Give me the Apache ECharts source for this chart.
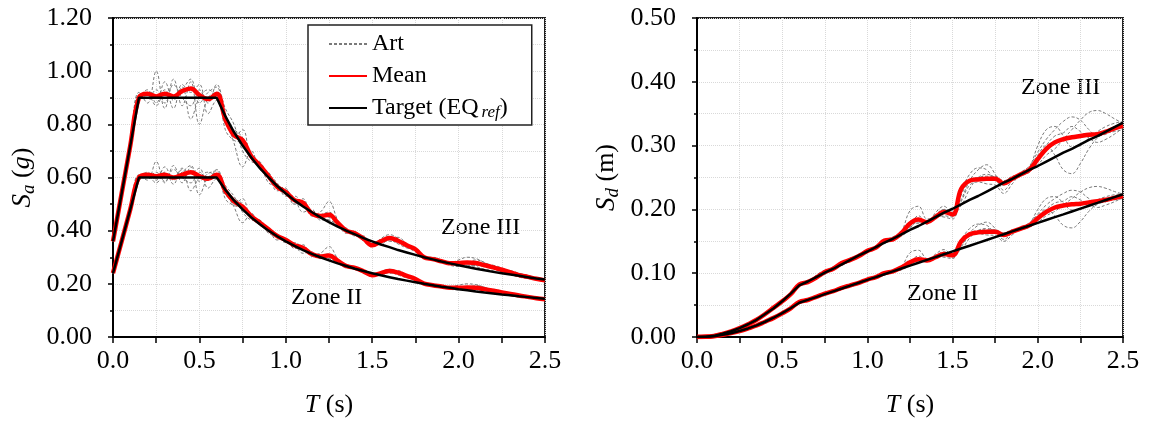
<!DOCTYPE html>
<html>
<head>
<meta charset="utf-8">
<script src="https://cdn.jsdelivr.net/npm/echarts@6/dist/echarts.min.js"></script>
<style>
  html, body { margin: 0; padding: 0; background: #fff; }
  #chart { width: 1150px; height: 423px; }
</style>
</head>
<body>
<div id="chart"></div>
<script>
// Period grid T (s)
const periods = [0,0.05,0.10,0.15,0.20,0.25,0.30,0.35,0.40,0.45,0.50,0.55,0.60,0.65,0.70,0.75,0.80,0.85,0.90,0.95,
  1.00,1.05,1.10,1.15,1.20,1.25,1.30,1.35,1.40,1.45,1.50,1.55,1.60,1.65,1.70,1.75,1.80,1.85,1.90,1.95,
  2.00,2.05,2.10,2.15,2.20,2.25,2.30,2.35,2.40,2.45,2.50];

// Tick labels
const xTickLabels = ['0.0','0.5','1.0','1.5','2.0','2.5'];
const saTickLabels = ['0.00','0.20','0.40','0.60','0.80','1.00','1.20'];
const sdTickLabels = ['0.00','0.10','0.20','0.30','0.40','0.50'];

// ---------- Spectral acceleration Sa (g) ----------
const saTargetIII = [0.36,0.54,0.72,0.90,0.90,0.90,0.90,0.90,0.90,0.90,0.90,0.90,0.90,0.831,0.771,0.720,0.675,0.635,0.600,0.568,
  0.540,0.514,0.491,0.470,0.450,0.432,0.415,0.400,0.386,0.372,0.360,0.348,0.338,0.327,0.318,0.309,0.300,0.292,0.284,0.277,
  0.270,0.263,0.257,0.251,0.245,0.240,0.235,0.230,0.225,0.220,0.216];
const saTargetII = [0.24,0.36,0.48,0.60,0.60,0.60,0.60,0.60,0.60,0.60,0.60,0.60,0.60,0.554,0.514,0.480,0.450,0.424,0.400,0.379,
  0.360,0.343,0.327,0.313,0.300,0.288,0.277,0.267,0.257,0.248,0.240,0.232,0.225,0.218,0.212,0.206,0.200,0.195,0.189,0.185,
  0.180,0.176,0.171,0.167,0.164,0.160,0.157,0.153,0.150,0.147,0.144];
const saMeanIII = [0.36,0.54,0.72,0.90,0.915,0.905,0.915,0.905,0.925,0.935,0.910,0.895,0.915,0.820,0.760,0.740,0.680,0.645,0.605,0.565,
  0.545,0.515,0.505,0.465,0.455,0.460,0.430,0.400,0.390,0.370,0.345,0.360,0.372,0.362,0.345,0.330,0.300,0.293,0.285,0.277,
  0.278,0.280,0.278,0.270,0.262,0.253,0.243,0.233,0.226,0.219,0.213];
const saMeanII = [0.24,0.36,0.48,0.60,0.610,0.605,0.610,0.600,0.610,0.620,0.605,0.595,0.610,0.550,0.510,0.490,0.455,0.430,0.405,0.380,
  0.365,0.345,0.335,0.312,0.303,0.307,0.287,0.267,0.260,0.247,0.232,0.240,0.248,0.242,0.230,0.218,0.201,0.195,0.190,0.185,
  0.185,0.186,0.185,0.180,0.174,0.168,0.162,0.156,0.151,0.146,0.142];
const saArtIII1 = [0.36,0.55,0.73,0.92,0.88,1.00,0.86,0.95,0.90,0.87,0.93,0.88,0.95,0.86,0.80,0.70,0.66,0.65,0.58,0.57,
  0.55,0.50,0.51,0.46,0.47,0.51,0.44,0.39,0.395,0.36,0.345,0.37,0.385,0.37,0.34,0.32,0.30,0.30,0.29,0.28,
  0.29,0.30,0.295,0.28,0.265,0.25,0.24,0.232,0.225,0.218,0.212];
const saArtIII2 = [0.36,0.53,0.71,0.89,0.93,0.88,0.96,0.89,0.94,0.82,0.90,0.93,0.90,0.83,0.73,0.64,0.70,0.63,0.62,0.56,
  0.54,0.52,0.47,0.48,0.44,0.44,0.42,0.41,0.38,0.38,0.35,0.35,0.37,0.375,0.35,0.33,0.295,0.29,0.28,0.275,
  0.27,0.265,0.27,0.275,0.27,0.26,0.245,0.23,0.222,0.218,0.215];
const saArtIII3 = [0.36,0.54,0.72,0.91,0.90,0.93,0.88,0.97,0.87,0.96,0.80,0.90,0.92,0.80,0.78,0.75,0.67,0.64,0.61,0.58,
  0.53,0.53,0.50,0.47,0.46,0.45,0.43,0.40,0.385,0.375,0.35,0.36,0.36,0.355,0.34,0.335,0.305,0.29,0.285,0.28,
  0.275,0.28,0.29,0.28,0.26,0.245,0.235,0.225,0.22,0.215,0.212];
const saArtIII4 = [0.36,0.55,0.72,0.88,0.92,0.90,0.93,0.86,0.95,0.92,0.95,0.84,0.89,0.83,0.75,0.78,0.67,0.66,0.60,0.565,
  0.56,0.51,0.52,0.455,0.46,0.47,0.43,0.40,0.39,0.37,0.34,0.365,0.37,0.36,0.345,0.325,0.30,0.295,0.285,0.28,
  0.28,0.27,0.265,0.255,0.25,0.248,0.24,0.235,0.228,0.22,0.214];
const saArtIII5 = [0.36,0.54,0.73,0.90,0.91,0.87,0.92,0.90,0.93,0.97,0.88,0.92,0.94,0.78,0.74,0.73,0.69,0.64,0.61,0.55,
  0.555,0.50,0.50,0.47,0.45,0.44,0.425,0.40,0.39,0.365,0.34,0.355,0.365,0.35,0.335,0.33,0.30,0.29,0.285,0.27,
  0.265,0.27,0.27,0.265,0.262,0.255,0.25,0.24,0.232,0.222,0.213];
const saArtII1 = [0.24,0.37,0.49,0.61,0.59,0.66,0.58,0.63,0.60,0.58,0.62,0.59,0.63,0.57,0.53,0.47,0.44,0.435,0.39,0.38,
  0.37,0.335,0.34,0.31,0.315,0.34,0.295,0.26,0.265,0.24,0.23,0.245,0.255,0.245,0.227,0.213,0.20,0.20,0.193,0.188,
  0.195,0.20,0.197,0.187,0.177,0.167,0.16,0.155,0.15,0.146,0.142];
const saArtII2 = [0.24,0.35,0.47,0.59,0.62,0.59,0.64,0.59,0.63,0.55,0.60,0.62,0.60,0.555,0.49,0.43,0.465,0.42,0.41,0.375,
  0.36,0.345,0.315,0.32,0.295,0.295,0.28,0.275,0.255,0.253,0.233,0.233,0.247,0.25,0.233,0.22,0.197,0.193,0.187,0.183,
  0.18,0.177,0.18,0.183,0.18,0.173,0.163,0.153,0.148,0.145,0.143];
const saArtII3 = [0.24,0.36,0.48,0.605,0.60,0.62,0.585,0.645,0.58,0.64,0.535,0.60,0.615,0.535,0.52,0.50,0.445,0.425,0.405,0.385,
  0.355,0.355,0.335,0.315,0.305,0.30,0.287,0.267,0.257,0.25,0.233,0.24,0.24,0.237,0.227,0.223,0.203,0.193,0.19,0.187,
  0.183,0.187,0.193,0.187,0.173,0.163,0.157,0.15,0.147,0.143,0.141];
const saArtII4 = [0.24,0.365,0.48,0.585,0.615,0.60,0.62,0.575,0.635,0.615,0.635,0.56,0.595,0.555,0.50,0.52,0.445,0.44,0.40,0.377,
  0.373,0.34,0.347,0.303,0.307,0.313,0.287,0.267,0.26,0.247,0.227,0.243,0.247,0.24,0.23,0.217,0.20,0.197,0.19,0.187,
  0.187,0.18,0.177,0.17,0.167,0.165,0.16,0.157,0.152,0.147,0.143];
const saArtII5 = [0.24,0.36,0.49,0.60,0.605,0.58,0.615,0.60,0.62,0.645,0.585,0.615,0.625,0.52,0.495,0.487,0.46,0.425,0.405,0.365,
  0.37,0.333,0.333,0.313,0.30,0.293,0.283,0.267,0.26,0.243,0.227,0.237,0.243,0.233,0.223,0.22,0.20,0.193,0.19,0.18,
  0.177,0.18,0.18,0.177,0.175,0.17,0.167,0.16,0.155,0.148,0.142];

// ---------- Spectral displacement Sd (m) ----------
const sdTargetIII = [0,0.0003,0.0018,0.005,0.009,0.014,0.020,0.027,0.036,0.045,0.056,0.068,0.081,0.087,0.094,0.101,0.107,0.114,0.121,0.128,
  0.134,0.141,0.148,0.154,0.161,0.168,0.174,0.181,0.188,0.195,0.201,0.208,0.215,0.221,0.228,0.235,0.242,0.248,0.255,0.262,
  0.268,0.275,0.282,0.289,0.295,0.302,0.309,0.315,0.322,0.329,0.336];
const sdTargetII = [0,0.0002,0.0012,0.0034,0.006,0.0093,0.0134,0.0183,0.0239,0.0302,0.0373,0.0451,0.0537,0.0581,0.0626,0.0671,0.0716,0.0760,0.0805,0.0850,
  0.0895,0.0939,0.0984,0.1029,0.1074,0.1118,0.1163,0.1208,0.1252,0.1297,0.1342,0.1387,0.1431,0.1476,0.1521,0.1566,0.1610,0.1655,0.1700,0.1744,
  0.1789,0.1834,0.1879,0.1923,0.1968,0.2013,0.2058,0.2102,0.2147,0.2192,0.2237];
const sdMeanIII = [0,0.0003,0.0018,0.005,0.009,0.014,0.020,0.027,0.036,0.046,0.056,0.067,0.082,0.086,0.093,0.102,0.107,0.116,0.121,0.127,
  0.135,0.140,0.151,0.153,0.163,0.178,0.184,0.180,0.188,0.196,0.192,0.232,0.245,0.247,0.248,0.248,0.241,0.248,0.255,0.262,
  0.279,0.295,0.305,0.310,0.313,0.315,0.317,0.318,0.322,0.327,0.331];
const sdMeanII = [0,0.0002,0.0012,0.0034,0.006,0.0093,0.0134,0.018,0.024,0.030,0.037,0.045,0.055,0.058,0.063,0.068,0.072,0.077,0.081,0.085,
  0.090,0.094,0.100,0.103,0.109,0.117,0.122,0.120,0.125,0.130,0.128,0.150,0.161,0.164,0.165,0.165,0.160,0.165,0.170,0.175,
  0.186,0.196,0.203,0.206,0.208,0.209,0.211,0.213,0.215,0.218,0.221];
const sdArtIII1 = [0,0.0003,0.0018,0.005,0.009,0.014,0.020,0.027,0.036,0.046,0.057,0.069,0.083,0.089,0.092,0.100,0.109,0.116,0.120,0.129,
  0.136,0.140,0.150,0.152,0.165,0.198,0.205,0.185,0.188,0.200,0.193,0.228,0.255,0.265,0.262,0.245,0.238,0.250,0.252,0.265,
  0.300,0.325,0.330,0.315,0.298,0.300,0.312,0.322,0.330,0.335,0.338];
const sdArtIII2 = [0,0.0003,0.0017,0.005,0.009,0.014,0.020,0.027,0.035,0.045,0.055,0.067,0.080,0.085,0.097,0.104,0.105,0.116,0.123,0.126,
  0.135,0.143,0.146,0.157,0.160,0.172,0.180,0.178,0.195,0.205,0.190,0.215,0.245,0.262,0.270,0.255,0.230,0.245,0.258,0.268,
  0.290,0.310,0.325,0.338,0.345,0.340,0.325,0.315,0.318,0.325,0.332];
const sdArtIII3 = [0,0.0003,0.0018,0.005,0.009,0.014,0.020,0.027,0.036,0.045,0.056,0.068,0.082,0.088,0.093,0.098,0.108,0.112,0.120,0.130,
  0.133,0.142,0.149,0.155,0.158,0.170,0.185,0.182,0.192,0.200,0.196,0.206,0.232,0.250,0.255,0.250,0.243,0.247,0.254,0.260,
  0.270,0.285,0.295,0.310,0.325,0.340,0.352,0.355,0.350,0.342,0.335];
const sdArtIII4 = [0,0.0003,0.0018,0.005,0.009,0.014,0.020,0.027,0.036,0.046,0.056,0.068,0.081,0.086,0.095,0.103,0.110,0.114,0.124,0.127,
  0.137,0.139,0.152,0.156,0.162,0.175,0.190,0.180,0.186,0.190,0.188,0.212,0.238,0.243,0.240,0.238,0.225,0.240,0.256,0.263,
  0.285,0.300,0.285,0.262,0.256,0.272,0.295,0.312,0.320,0.322,0.325];
const sdArtIII5 = [0,0.0003,0.0018,0.005,0.009,0.014,0.020,0.027,0.035,0.045,0.056,0.067,0.080,0.087,0.092,0.102,0.106,0.118,0.119,0.126,
  0.134,0.141,0.148,0.152,0.163,0.180,0.178,0.177,0.190,0.188,0.185,0.222,0.245,0.250,0.252,0.252,0.245,0.252,0.254,0.258,
  0.275,0.300,0.315,0.320,0.330,0.322,0.312,0.305,0.310,0.318,0.328];
const sdArtII1 = [0,0.0002,0.0012,0.0034,0.006,0.0095,0.0135,0.0185,0.024,0.0305,0.038,0.046,0.056,0.059,0.061,0.067,0.073,0.077,0.080,0.086,
  0.091,0.093,0.101,0.102,0.110,0.132,0.136,0.123,0.125,0.133,0.129,0.152,0.170,0.177,0.175,0.163,0.159,0.167,0.168,0.177,
  0.200,0.217,0.220,0.210,0.199,0.200,0.208,0.215,0.220,0.223,0.225];
const sdArtII2 = [0,0.0002,0.0011,0.0033,0.006,0.0092,0.0133,0.018,0.0235,0.030,0.0365,0.045,0.053,0.057,0.065,0.069,0.070,0.077,0.082,0.084,
  0.090,0.095,0.097,0.105,0.107,0.115,0.120,0.119,0.130,0.137,0.127,0.143,0.163,0.175,0.180,0.170,0.153,0.163,0.172,0.179,
  0.193,0.207,0.217,0.225,0.230,0.227,0.217,0.210,0.212,0.217,0.221];
const sdArtII3 = [0,0.0002,0.0012,0.0034,0.006,0.0093,0.0134,0.0183,0.024,0.030,0.0375,0.0455,0.0545,0.059,0.062,0.065,0.072,0.075,0.080,0.087,
  0.089,0.095,0.099,0.103,0.105,0.113,0.123,0.121,0.128,0.133,0.131,0.137,0.155,0.167,0.170,0.167,0.162,0.165,0.169,0.173,
  0.180,0.190,0.197,0.207,0.217,0.227,0.234,0.236,0.233,0.228,0.224];
const sdArtII4 = [0,0.0002,0.0012,0.0034,0.006,0.0094,0.0135,0.0184,0.024,0.0305,0.0375,0.0455,0.054,0.0575,0.0635,0.069,0.073,0.076,0.083,0.085,
  0.091,0.093,0.101,0.104,0.108,0.117,0.127,0.120,0.124,0.127,0.125,0.141,0.159,0.162,0.160,0.159,0.150,0.160,0.171,0.175,
  0.190,0.200,0.190,0.175,0.171,0.181,0.197,0.208,0.213,0.215,0.217];
const sdArtII5 = [0,0.0002,0.0012,0.0034,0.006,0.0093,0.0133,0.018,0.0235,0.030,0.037,0.045,0.053,0.058,0.061,0.068,0.071,0.079,0.079,0.084,
  0.089,0.094,0.099,0.101,0.109,0.120,0.119,0.118,0.127,0.125,0.123,0.148,0.163,0.167,0.168,0.168,0.163,0.168,0.169,0.172,
  0.183,0.200,0.210,0.213,0.220,0.215,0.208,0.203,0.207,0.212,0.219];

const FONT = '"Liberation Serif", "Times New Roman", serif';

const pairs = vals => periods.map((t, i) => [t, vals[i]]);

function artSeries(vals, axis) {
  return {
    name: 'Art', type: 'line', xAxisIndex: axis, yAxisIndex: axis,
    data: pairs(vals), symbol: 'none', smooth: 0.4, z: 2,
    itemStyle: { color: '#7a7a7a' },
    lineStyle: { color: '#7a7a7a', width: 1, type: [3, 2] }
  };
}
function meanSeries(vals, axis) {
  return {
    name: 'Mean', type: 'line', xAxisIndex: axis, yAxisIndex: axis,
    data: pairs(vals), symbol: 'none', smooth: 0.4, z: 3,
    itemStyle: { color: '#ff0000' },
    lineStyle: { color: '#ff0000', width: 4.5 }
  };
}
function targetSeries(vals, axis) {
  return {
    name: 'Target', type: 'line', xAxisIndex: axis, yAxisIndex: axis,
    data: pairs(vals), symbol: 'none', smooth: false, z: 4,
    itemStyle: { color: '#000' },
    lineStyle: { color: '#000', width: 2.5 }
  };
}

const gridLine = { show: true, lineStyle: { color: '#d9d9d9', type: 'dotted', width: 1 } };

function xAxis(idx) {
  return {
    type: 'value', gridIndex: idx, min: 0, max: 2.5, interval: 0.5,
    axisLine: { show: true, onZero: false, lineStyle: { color: '#000', width: 2 } },
    axisTick: { show: true, inside: false, length: 6, lineStyle: { color: '#000', width: 1.5 } },
    minorTick: { show: true, splitNumber: 2, length: 6, lineStyle: { color: '#000', width: 1.5 } },
    splitLine: gridLine, minorSplitLine: gridLine,
    axisLabel: { color: '#000', fontFamily: FONT, fontSize: 26, margin: 11,
      formatter: v => xTickLabels[Math.round(v / 0.5)] },
    name: '{i|T} (s)', nameLocation: 'middle', nameGap: 55,
    nameTextStyle: { color: '#000', fontFamily: FONT, fontSize: 26,
      rich: { i: { fontFamily: FONT, fontSize: 26, fontStyle: 'italic', color: '#000' } } }
  };
}

function yAxis(idx, max, interval, labels, name, rich) {
  return {
    type: 'value', gridIndex: idx, min: 0, max: max, interval: interval,
    axisLine: { show: true, onZero: false, lineStyle: { color: '#000', width: 2 } },
    axisTick: { show: true, inside: false, length: 5, lineStyle: { color: '#000', width: 1.5 } },
    minorTick: { show: true, splitNumber: 2, length: 3, lineStyle: { color: '#000', width: 1.5 } },
    splitLine: gridLine, minorSplitLine: gridLine,
    axisLabel: { color: '#000', fontFamily: FONT, fontSize: 26, margin: 21,
      formatter: v => labels[Math.round(v / interval)] },
    name: name, nameLocation: 'middle', nameRotate: 90, nameGap: 75,
    nameTextStyle: { color: '#000', fontFamily: FONT, fontSize: 26, rich: rich }
  };
}

const subRich = {
  s: { fontFamily: FONT, fontSize: 27, fontStyle: 'italic', color: '#000' },
  b: { fontFamily: FONT, fontSize: 19, fontStyle: 'italic', color: '#000', verticalAlign: 'bottom', padding: [12, 0, 0, 0] },
  g: { fontFamily: FONT, fontSize: 26, fontStyle: 'italic', color: '#000' },
  n: { fontFamily: FONT, fontSize: 26, color: '#000' }
};

const zoneFont = '24px ' + FONT;

const option = {
  animation: false,
  backgroundColor: '#fff',
  grid: [
    { left: 113, top: 18, width: 432, height: 323, show: true, borderColor: '#222', borderWidth: 2 },
    { left: 697, top: 18, width: 426, height: 323, show: true, borderColor: '#222', borderWidth: 2 }
  ],
  xAxis: [xAxis(0), xAxis(1)],
  yAxis: [
    yAxis(0, 1.2, 0.2, saTickLabels, '{s|S}{b|a}{n| (}{g|g}{n|)}', subRich),
    yAxis(1, 0.5, 0.1, sdTickLabels, '{s|S}{b|d}{n| (m)}', subRich)
  ],
  legend: {
    data: ['Art', 'Mean', 'Target'],
    orient: 'vertical', left: 308, top: 25,
    backgroundColor: '#fff', borderColor: '#222', borderWidth: 1.5,
    padding: [6, 24, 4, 20], itemGap: 6, itemWidth: 38, itemHeight: 14,
    itemStyle: { color: 'transparent', borderWidth: 0, opacity: 0 },
    textStyle: { color: '#000', fontFamily: FONT, fontSize: 24, lineHeight: 26,
      rich: { r: { fontFamily: FONT, fontSize: 17, fontStyle: 'italic', color: '#000',
                   verticalAlign: 'bottom', padding: [12, 0, 0, 3] } } },
    formatter: n => n === 'Target' ? 'Target (EQ{r|ref})' : n
  },
  graphic: [
    { type: 'text', left: 441, top: 216, style: { text: 'Zone III', font: zoneFont, fill: '#000' } },
    { type: 'text', left: 291, top: 286, style: { text: 'Zone II', font: zoneFont, fill: '#000' } },
    { type: 'text', left: 1021, top: 76, style: { text: 'Zone III', font: zoneFont, fill: '#000' } },
    { type: 'text', left: 907, top: 282, style: { text: 'Zone II', font: zoneFont, fill: '#000' } }
  ],
  series: [
    artSeries(saArtIII1, 0), artSeries(saArtIII2, 0), artSeries(saArtIII3, 0), artSeries(saArtIII4, 0), artSeries(saArtIII5, 0),
    artSeries(saArtII1, 0), artSeries(saArtII2, 0), artSeries(saArtII3, 0), artSeries(saArtII4, 0), artSeries(saArtII5, 0),
    meanSeries(saMeanIII, 0), meanSeries(saMeanII, 0),
    targetSeries(saTargetIII, 0), targetSeries(saTargetII, 0),
    artSeries(sdArtIII1, 1), artSeries(sdArtIII2, 1), artSeries(sdArtIII3, 1), artSeries(sdArtIII4, 1), artSeries(sdArtIII5, 1),
    artSeries(sdArtII1, 1), artSeries(sdArtII2, 1), artSeries(sdArtII3, 1), artSeries(sdArtII4, 1), artSeries(sdArtII5, 1),
    meanSeries(sdMeanIII, 1), meanSeries(sdMeanII, 1),
    targetSeries(sdTargetIII, 1), targetSeries(sdTargetII, 1)
  ]
};

const chart = echarts.init(document.getElementById('chart'), null, { renderer: 'canvas' });
chart.setOption(option);
</script>
</body>
</html>
